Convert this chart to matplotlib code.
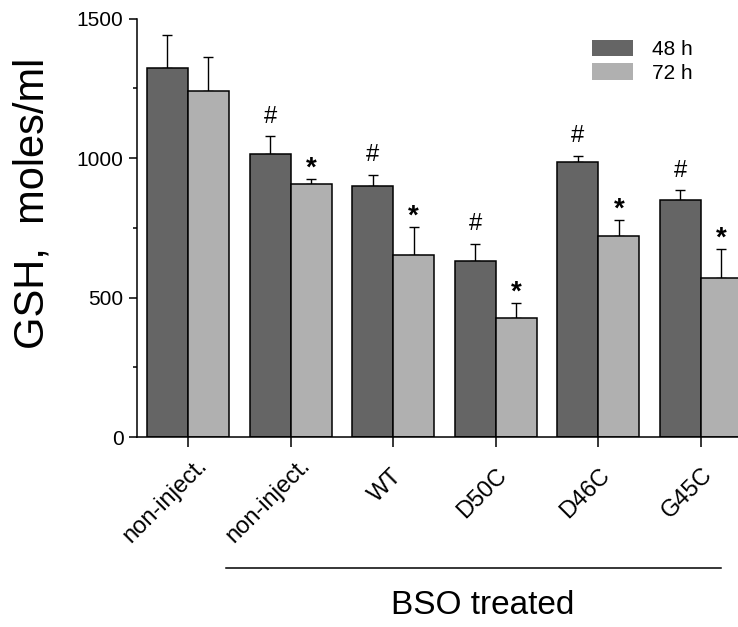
import numpy as np
import matplotlib
matplotlib.use("Agg")
import matplotlib.pyplot as plt
import matplotlib.transforms as mtransforms
from matplotlib.patches import Patch
from matplotlib.lines import Line2D

plt.rcParams['font.family'] = ['Liberation Sans', 'DejaVu Sans']

# data
groups = ["non-inject.", "non-inject.", "WT", "D50C", "D46C", "G45C"]
gsh_48 = [1323, 1016, 899, 631, 987, 850]
err_48 = [119, 62, 42, 62, 22, 36]
gsh_72 = [1242, 906, 652, 425, 720, 570]
err_72 = [122, 20, 102, 55, 57, 104]
mark_48 = ["", "#", "#", "#", "#", "#"]
mark_72 = ["", "*", "*", "*", "*", "*"]
series_names = ["48 h", "72 h"]

dark = "#656565"
light = "#b0b0b0"

# where each rotated label's centre sits relative to its tick (pixels, right / down)
label_dx = [-23, -22, -8, -14, -13, -14]
label_dy = [64, 64, 49, 56, 56, 56]

fig = plt.figure(figsize=(7.38, 6.27), dpi=100)
ax = fig.add_axes([0.1852, 0.3030, 0.848, 0.6672])

x = np.arange(len(groups))
w = 0.4
ax.bar(x - w/2, gsh_48, w, color=dark, edgecolor="black", linewidth=1.1, zorder=2)
ax.bar(x + w/2, gsh_72, w, color=light, edgecolor="black", linewidth=1.1, zorder=2)
ax.errorbar(x - w/2, gsh_48, yerr=[np.zeros(len(x)), err_48], fmt="none",
            ecolor="black", elinewidth=1.0, capsize=3.5, capthick=1.0, zorder=1)
ax.errorbar(x + w/2, gsh_72, yerr=[np.zeros(len(x)), err_72], fmt="none",
            ecolor="black", elinewidth=1.0, capsize=3.5, capthick=1.0, zorder=1)

for i in range(len(x)):
    if mark_48[i]:
        ax.annotate(mark_48[i], (x[i] - w/2, gsh_48[i] + err_48[i]), xytext=(0, 6),
                    textcoords="offset points", ha="center", va="bottom", fontsize=17)
    if mark_72[i]:
        ax.annotate(mark_72[i], (x[i] + w/2, gsh_72[i] + err_72[i]), xytext=(0, -2),
                    textcoords="offset points", ha="center", va="bottom", fontsize=20,
                    fontweight="bold")

ax.set_xlim(-0.5, 5.6)
ax.set_ylim(0, 1500)
ax.set_yticks([0, 500, 1000, 1500])
ax.set_yticks([250, 750, 1250], minor=True)
ax.set_xticks(x)
ax.set_xticklabels([])

# rotated group labels
for i, g in enumerate(groups):
    off = mtransforms.ScaledTranslation(label_dx[i] / 100, -label_dy[i] / 100,
                                        fig.dpi_scale_trans)
    ax.text(x[i], 0, g, transform=ax.transData + off, rotation=45,
            rotation_mode="anchor", ha="center", va="center", fontsize=17)

for s in ["top", "right"]:
    ax.spines[s].set_visible(False)
for s in ["left", "bottom"]:
    ax.spines[s].set_linewidth(1.1)
ax.tick_params(axis="y", which="major", length=6, width=1.1, labelsize=15)
ax.tick_params(axis="y", which="minor", length=3, width=1.1)
ax.tick_params(axis="x", which="major", length=7, width=1.1)

ax.set_ylabel("GSH,  moles/ml", fontsize=30)
ax.yaxis.set_label_coords(-0.135, 0.558)

handles = [Patch(facecolor=dark, edgecolor="none"), Patch(facecolor=light, edgecolor="none")]
ax.legend(handles, series_names, loc="upper left", bbox_to_anchor=(0.802, 0.937),
          bbox_transform=fig.transFigure, frameon=False, fontsize=15,
          handlelength=1.95, handleheight=0.87, handletextpad=0.95,
          labelspacing=0.2, borderpad=0, borderaxespad=0)

# BSO treated bracket
trans = mtransforms.blended_transform_factory(ax.transData, ax.transAxes)
ax.add_line(Line2D([0.37, 5.2], [-0.3125, -0.3125], transform=trans, color="black",
                   linewidth=1.1, clip_on=False))
ax.text(2.875, -0.402, "BSO treated", transform=trans, ha="center", va="center",
        fontsize=24)

fig.savefig("out.png", dpi=100)
